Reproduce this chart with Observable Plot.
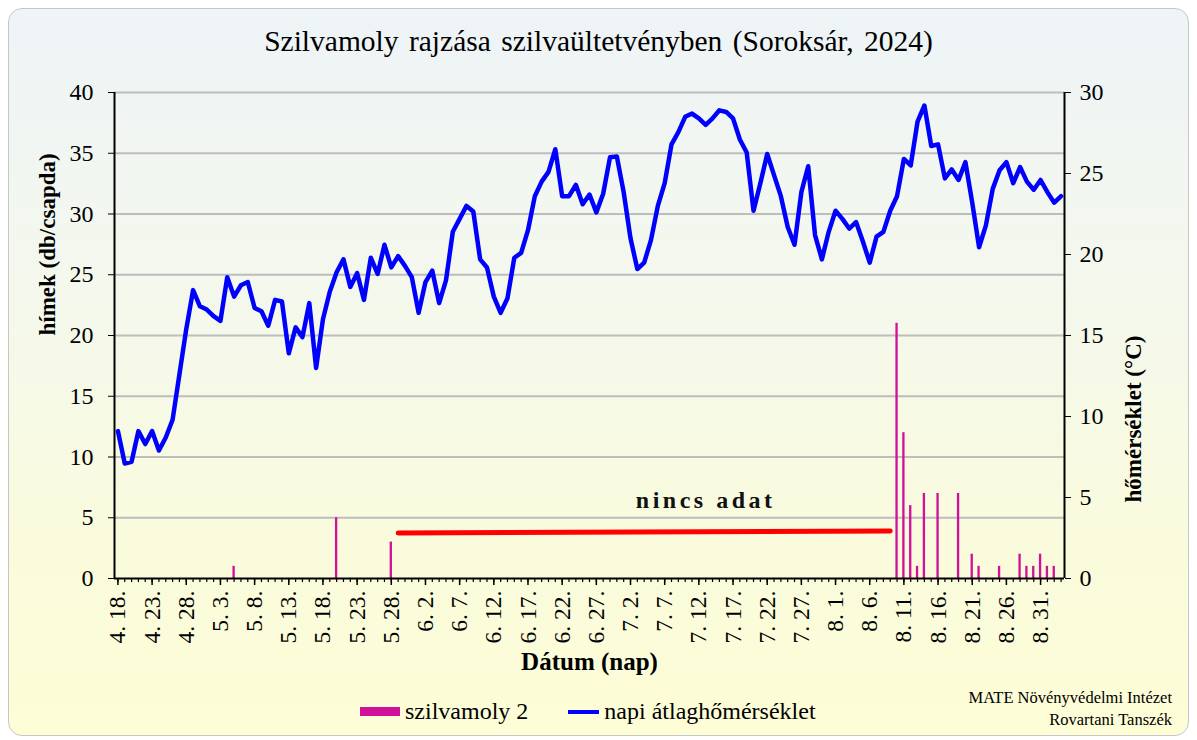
<!DOCTYPE html>
<html>
<head>
<meta charset="utf-8">
<script src="https://cdn.jsdelivr.net/npm/d3@7"></script>
<script src="https://cdn.jsdelivr.net/npm/@observablehq/plot@0.6"></script>
<style>
  body { margin:0; width:1197px; height:740px; overflow:hidden; position:relative; background:#ffffff; font-family:"Liberation Serif", "Times New Roman", serif; color:#000; }
  #panel { position:absolute; left:8px; top:8px; width:1181px; height:728px; box-sizing:border-box; border:1px solid #c6c6c6; border-radius:14px;
           background:linear-gradient(to bottom, #eef4f7 0%, #f4f8ec 40%, #fafbdc 75%, #fdfdd6 100%); }
  #chart { position:absolute; left:0; top:0; }
  #chart svg text { font-family:"Liberation Serif", "Times New Roman", serif; }
  #title { position:absolute; left:0; width:1197px; top:25px; text-align:center; font-size:29.5px; word-spacing:3px; font-family:"Liberation Serif", serif; }
  #legend { position:absolute; top:698px; left:360px; font-size:24px; display:flex; align-items:center; white-space:nowrap; font-family:"Liberation Serif", serif; }
  #legend span { font-family:"Liberation Serif", serif; }
  .sw-bar { width:40px; height:9px; background:#d2119a; margin-right:5px; }
  .sw-line { width:31px; height:4px; background:#0000ff; margin-left:40px; margin-right:5px; }
  #caption { position:absolute; right:25px; top:687px; font-size:16.5px; text-align:right; line-height:22px; font-family:"Liberation Serif", serif; }
</style>
</head>
<body>
<div id="panel"></div>
<div id="chart"></div>
<div id="title">Szilvamoly rajzása szilvaültetvényben (Soroksár, 2024)</div>
<div id="legend"><div class="sw-bar"></div><span>szilvamoly 2</span><div class="sw-line"></div><span>napi átlaghőmérséklet</span></div>
<div id="caption">MATE Növényvédelmi Intézet<br>Rovartani Tanszék</div>
<script>
// ---- categories: consecutive days from 2024-04-18 to 2024-09-03 ----
const firstDay = "2024-04-18";
const lastDay = "2024-09-03";
const days = d3.timeDay.range(new Date(firstDay + "T00:00"), d3.timeDay.offset(new Date(lastDay + "T00:00"), 1));
const dayLabel = d => `${d.getMonth() + 1}. ${d.getDate()}.`;
const dayKeys = days.map(d => `${d.getMonth() + 1}.${d.getDate()}`);

// ---- daily mean temperature (°C), one per day ----
const temperature = [
  9.1, 7.1, 7.2, 9.1, 8.3, 9.1, 7.9, 8.7, 9.8, 12.6,
  15.4, 17.8, 16.8, 16.6, 16.2, 15.9, 18.6, 17.4, 18.1, 18.3,
  16.7, 16.5, 15.6, 17.2, 17.1, 13.9, 15.5, 14.9, 17.0, 13.0,
  16.0, 17.7, 18.9, 19.7, 18.0, 18.85, 17.2, 19.8, 18.8, 20.6,
  19.2, 19.9, 19.3, 18.6, 16.4, 18.3, 19.0, 17.0, 18.4, 21.4,
  22.2, 23.0, 22.65, 19.7, 19.2, 17.4, 16.4, 17.3, 19.8, 20.1,
  21.5, 23.6, 24.5, 25.1, 26.5, 23.6, 23.6, 24.3, 23.1, 23.7,
  22.6, 23.75, 26.0, 26.05, 23.85, 21.0, 19.1, 19.5, 20.9, 23.0,
  24.4, 26.8, 27.55, 28.5, 28.7, 28.4, 28.0, 28.4, 28.9, 28.8,
  28.4, 27.1, 26.3, 22.7, 24.4, 26.2, 24.9, 23.6, 21.7, 20.6,
  23.85, 25.45, 21.2, 19.7, 21.4, 22.7, 22.2, 21.6, 22.0, 20.8,
  19.5, 21.1, 21.4, 22.7, 23.6, 25.9, 25.5, 28.2, 29.2, 26.7,
  26.8, 24.7, 25.25, 24.6, 25.7, 23.2, 20.45, 21.8, 24.05, 25.2,
  25.7, 24.4, 25.4, 24.5, 24.0, 24.6, 23.85, 23.2, 23.6
];

// ---- trap catches: plum moth males per trap ----
const catchDays = ["5.5", "5.20", "5.28", "8.10", "8.11", "8.12", "8.13", "8.14", "8.16", "8.19",
                   "8.21", "8.22", "8.25", "8.28", "8.29", "8.30", "8.31", "9.1", "9.2"];
const catchCounts = [1, 5, 3, 21, 12, 6, 1, 7, 7, 7, 2, 1, 1, 2, 1, 1, 2, 1, 1];

// ---- "no data" period marker ----
const noDataDays = ["5.29", "8.9"];
const noDataLevel = [3.75, 3.9];
const noDataLabel = "nincs adat";
const noDataLabelDay = "7.13";
const noDataLabelLevel = 6.4;

// ---- axis ticks ----
const leftTicks = [0, 5, 10, 15, 20, 25, 30, 35, 40];
const rightTicks = [0, 5, 10, 15, 20, 25, 30];
const labelEvery = 5;

// ---- derived tables ----
const idx = k => dayKeys.indexOf(k);
const tempData = temperature.map((t, i) => ({i, t}));
const catchData = catchDays.map((k, j) => ({i: idx(k), n: catchCounts[j]}));
const noData = noDataDays.map((k, j) => ({i: idx(k), v: noDataLevel[j]}));
const toLeft = t => t * 40 / 30;   // right axis (0–30 °C) onto left axis (0–40)
const n = days.length;

const serif = "Liberation Serif";

const chart = Plot.plot({
  width: 1197,
  height: 690,
  marginLeft: 114,
  marginRight: 133,
  marginTop: 92,
  marginBottom: 112,
  style: {background: "transparent", fontFamily: serif, color: "#000", overflow: "visible"},
  x: {type: "linear", domain: [-0.5, n - 0.5], axis: null},
  y: {type: "linear", domain: [0, 40], axis: null},
  marks: [
    Plot.gridY(leftTicks.slice(1), {stroke: "#bdbdbd", strokeOpacity: 1, strokeWidth: 2}),
    Plot.rectY(catchData, {x1: d => d.i - 0.17, x2: d => d.i + 0.17, y: "n", fill: "#d2119a"}),
    Plot.line(noData, {x: "i", y: "v", stroke: "#ff0000", strokeWidth: 5}),
    Plot.text([noDataLabel], {x: () => idx(noDataLabelDay), y: () => noDataLabelLevel, text: d => d,
      fontSize: 24, fontWeight: "bold", fontFamily: serif, fill: "#111"}),
    Plot.line(tempData, {x: "i", y: d => toLeft(d.t), stroke: "#0000ff", strokeWidth: 4.5, strokeLinejoin: "round"}),
    Plot.ruleX([-0.5, n - 0.5], {stroke: "#000", strokeWidth: 2}),
    Plot.ruleY([0], {stroke: "#000", strokeWidth: 2}),
    // left axis
    Plot.axisY({anchor: "left", ticks: leftTicks, tickSize: 6, tickPadding: 15, fontSize: 24, fontFamily: serif, label: null, tickFormat: d => d}),
    // right axis
    Plot.axisY({anchor: "right", ticks: rightTicks.map(toLeft), tickSize: 6, tickPadding: 9, fontSize: 24, fontFamily: serif, label: null,
      tickFormat: d => Math.round(d * 30 / 40)}),
    // bottom axis: minor ticks for every day, labels every fifth day
    Plot.axisX({ticks: d3.range(n), tickSize: 4, tickFormat: () => "", label: null, strokeWidth: 1.2}),
    Plot.axisX({ticks: d3.range(0, n, labelEvery), tickSize: 7, tickPadding: 5, tickRotate: -90, fontSize: 23.5, fontFamily: serif,
      tickFormat: i => dayLabel(days[i]), label: null, strokeWidth: 1.5}),
    // axis titles
    Plot.text(["hímek (db/csapda)"], {frameAnchor: "left", dx: -67, rotate: -90, fontSize: 23, fontWeight: "bold", fontFamily: serif}),
    Plot.text(["hőmérséklet (°C)"], {frameAnchor: "right", dx: 69, rotate: -90, fontSize: 23, fontWeight: "bold", fontFamily: serif}),
    Plot.text(["Dátum (nap)"], {frameAnchor: "bottom", dy: 91, fontSize: 25, fontWeight: "bold", fontFamily: serif})
  ]
});
document.getElementById("chart").appendChild(chart);
chart.querySelectorAll("text").forEach(t => { if (t.textContent === noDataLabel) t.style.letterSpacing = "3.5px"; });
</script>
</body>
</html>
